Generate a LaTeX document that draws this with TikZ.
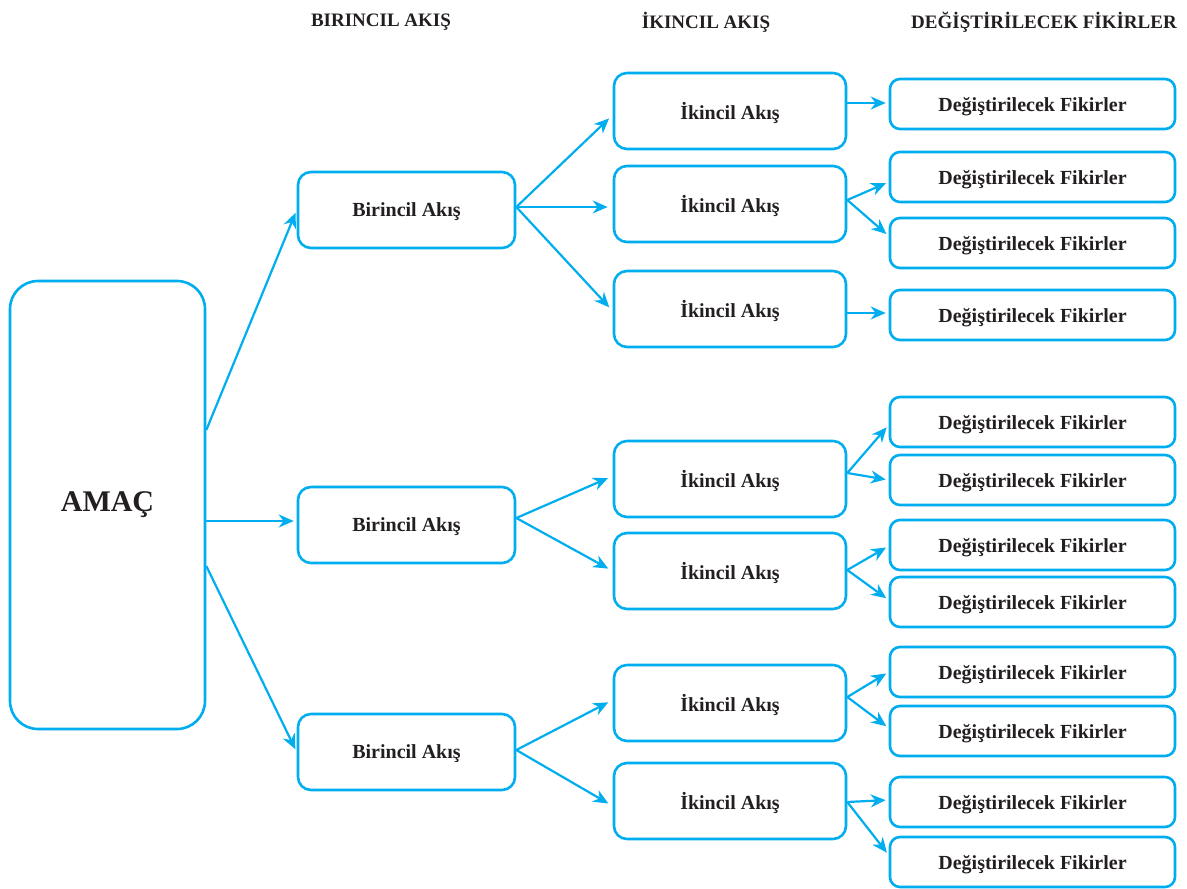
\documentclass[tikz,border=0pt]{standalone}
\usepackage{fontspec}
\setmainfont{Liberation Serif}
\usepackage{xcolor}
\usepackage{tikz}
\usetikzlibrary{arrows.meta,positioning,calc}
\definecolor{Xcyan}{RGB}{0,174,239}
\definecolor{Xtext}{RGB}{35,31,32}
\tikzset{
  flow/.style={-{Stealth[length=15pt,width=13pt]}, line width=2.2pt, draw=Xcyan, shorten >=3pt},
  amacbox/.style={rounded corners=28pt, draw=Xcyan, line width=2.6pt, minimum width=195pt, minimum height=448pt, text=Xtext, font=\fontsize{30}{34}\selectfont\bfseries},
  akisbox/.style={rounded corners=13pt, draw=Xcyan, line width=2.6pt, minimum height=76pt, text depth=0pt, text=Xtext, font=\fontsize{20}{24}\selectfont\bfseries},
  fikirbox/.style={rounded corners=10pt, draw=Xcyan, line width=2.6pt, minimum width=285pt, minimum height=50pt, text depth=0pt, text=Xtext, font=\fontsize{20}{24}\selectfont\bfseries},
  header/.style={text=Xtext, font=\fontsize{19}{22}\selectfont\bfseries}
}
\begin{document}
\begin{tikzpicture}[x=1pt,y=-1pt]
  \useasboundingbox (0,0) rectangle (1187,889);

  % column headings
  \node[header] (h1) at (381,22) {BIRINCIL AKIŞ};
  \node[header] (h2) at (706,22) {İKINCIL AKIŞ};
  \node[header] (h3) at (1044,22) {DEĞİŞTİRİLECEK FİKİRLER};

  \node[amacbox] (amac) at (107.5,505) {AMAÇ};

  \node[akisbox, minimum width=217pt] (b1) at (406.5,210) {Birincil Akış};
  \node[akisbox, minimum width=217pt] (b2) at (406.5,525) {Birincil Akış};
  \node[akisbox, minimum width=217pt] (b3) at (406.5,752) {Birincil Akış};

  \node[akisbox, minimum width=232pt] (k1) at (730,111) {İkincil Akış};
  \node[akisbox, minimum width=232pt] (k2) at (730,204) {İkincil Akış};
  \node[akisbox, minimum width=232pt] (k3) at (730,309) {İkincil Akış};
  \node[akisbox, minimum width=232pt] (k4) at (730,479) {İkincil Akış};
  \node[akisbox, minimum width=232pt] (k5) at (730,571) {İkincil Akış};
  \node[akisbox, minimum width=232pt] (k6) at (730,703) {İkincil Akış};
  \node[akisbox, minimum width=232pt] (k7) at (730,801) {İkincil Akış};

  \node[fikirbox] (f1) at (1032.5,104) {Değiştirilecek Fikirler};
  \node[fikirbox] (f2) at (1032.5,177) {Değiştirilecek Fikirler};
  \node[fikirbox] (f3) at (1032.5,243) {Değiştirilecek Fikirler};
  \node[fikirbox] (f4) at (1032.5,315) {Değiştirilecek Fikirler};
  \node[fikirbox] (f5) at (1032.5,422) {Değiştirilecek Fikirler};
  \node[fikirbox] (f6) at (1032.5,480) {Değiştirilecek Fikirler};
  \node[fikirbox] (f7) at (1032.5,545) {Değiştirilecek Fikirler};
  \node[fikirbox] (f8) at (1032.5,602) {Değiştirilecek Fikirler};
  \node[fikirbox] (f9) at (1032.5,672) {Değiştirilecek Fikirler};
  \node[fikirbox] (f10) at (1032.5,731) {Değiştirilecek Fikirler};
  \node[fikirbox] (f11) at (1032.5,802) {Değiştirilecek Fikirler};
  \node[fikirbox] (f12) at (1032.5,862) {Değiştirilecek Fikirler};

  % amac -> birincil
  \draw[flow] ([yshift=75pt]amac.east) -- (b1.west);
  \draw[flow] ([yshift=-16pt]amac.east) -- ([yshift=4pt]b2.west);
  \draw[flow] ([yshift=-61pt]amac.east) -- (b3.west);

  % birincil -> ikincil
  \draw[flow, shorten >=5pt] ([yshift=3pt]b1.east) -- ([yshift=-4pt]k1.west);
  \draw[flow, shorten >=5pt] ([yshift=3pt]b1.east) -- ([yshift=-3pt]k2.west);
  \draw[flow, shorten >=5pt] ([yshift=3pt]b1.east) -- ([yshift=-2pt]k3.west);
  \draw[flow, shorten >=5pt] ([yshift=7pt]b2.east) -- ([yshift=3pt]k4.west);
  \draw[flow, shorten >=5pt] ([yshift=7pt]b2.east) -- (k5.west);
  \draw[flow, shorten >=5pt] ([yshift=2pt]b3.east) -- ([yshift=3pt]k6.west);
  \draw[flow, shorten >=5pt] ([yshift=2pt]b3.east) -- ([yshift=-5pt]k7.west);

  % ikincil -> fikirler
  \draw[flow] ([yshift=8pt]k1.east) -- ([yshift=1pt]f1.west);
  \draw[flow] ([yshift=4pt]k2.east) -- ([yshift=-5pt]f2.west);
  \draw[flow] ([yshift=4pt]k2.east) -- ([yshift=7pt]f3.west);
  \draw[flow] ([yshift=-4pt]k3.east) -- ([yshift=2pt]f4.west);
  \draw[flow] ([yshift=6pt]k4.east) -- ([yshift=-3pt]f5.west);
  \draw[flow] ([yshift=6pt]k4.east) -- (f6.west);
  \draw[flow] ([yshift=1pt]k5.east) -- ([yshift=-1pt]f7.west);
  \draw[flow] ([yshift=1pt]k5.east) -- ([yshift=2pt]f8.west);
  \draw[flow] ([yshift=6pt]k6.east) -- (f9.west);
  \draw[flow] ([yshift=6pt]k6.east) -- ([yshift=3pt]f10.west);
  \draw[flow] ([yshift=-1pt]k7.east) -- ([yshift=2pt]f11.west);
  \draw[flow] ([yshift=-1pt]k7.east) -- ([yshift=7pt]f12.west);
\end{tikzpicture}
\end{document}
